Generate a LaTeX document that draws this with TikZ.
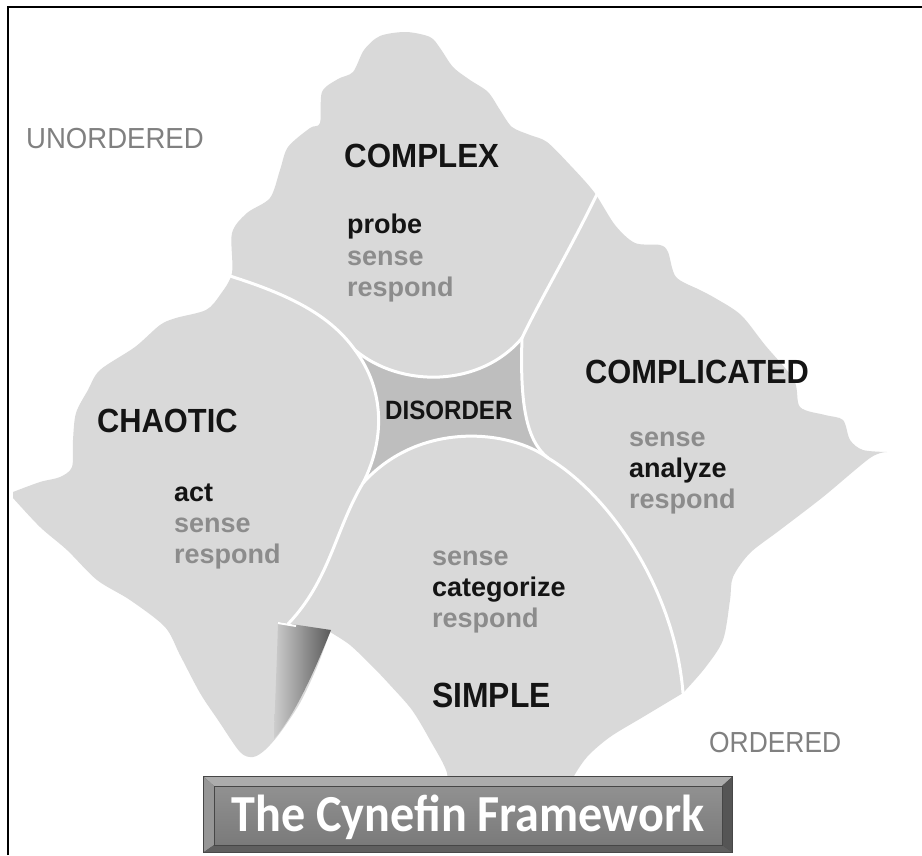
\documentclass[tikz,border=0pt]{standalone}
\usepackage{fontspec}
\setmainfont{Liberation Sans}
\newfontfamily\titlefont{Carlito}
\definecolor{regionfill}{RGB}{217,217,217}
\definecolor{disorderfill}{RGB}{190,190,190}
\definecolor{softtext}{RGB}{140,140,140}
\definecolor{hardtext}{RGB}{20,20,20}
\definecolor{edgetext}{RGB}{128,128,128}
\definecolor{wedgeL}{RGB}{205,205,205}
\definecolor{wedgeR}{RGB}{90,90,90}
\definecolor{bevelTop}{RGB}{172,172,172}
\definecolor{bevelLeft}{RGB}{150,150,150}
\definecolor{bevelBottom}{RGB}{95,95,95}
\definecolor{bevelRight}{RGB}{85,85,85}
\definecolor{faceTop}{RGB}{145,145,145}
\definecolor{faceBottom}{RGB}{122,122,122}
\definecolor{boxedge}{RGB}{70,70,70}
\begin{document}
\begin{tikzpicture}[x=1pt,y=-1pt,
  sep/.style={white,line width=3pt,line cap=round},
  dname/.style={inner sep=0pt,anchor=base west,text=hardtext,font=\bfseries\fontsize{33.5}{36}\selectfont},
  verbhard/.style={inner sep=0pt,anchor=base west,text=hardtext,font=\bfseries\fontsize{27}{30}\selectfont},
  verbsoft/.style={inner sep=0pt,anchor=base west,text=softtext,font=\bfseries\fontsize{27}{30}\selectfont},
  axislabel/.style={inner sep=0pt,anchor=base west,text=edgetext,font=\fontsize{29}{32}\selectfont}]
\useasboundingbox (0,0) rectangle (922,855);
\fill[white] (0,0) rectangle (922,855);
% frame
\draw[black,line width=2pt] (8,855) -- (8,7) -- (922,7);
% landscape
\fill[regionfill]
  plot[smooth,tension=0.5] coordinates {(887,452) (870,458) (823,497) (780,530) (750,553) (733,577) (730,600) (723,640) (705,668) (683,693)}
  -- plot[smooth,tension=0.5] coordinates {(683,693) (643,717) (610,737) (587,757) (572,780) (568,800)}
  -- (445,800)
  -- plot[smooth,tension=0.5] coordinates {(445,800) (447,773) (430,740) (412,710) (390,685) (373,667) (350,645) (330,632)}
  -- plot[smooth,tension=0.5] coordinates {(330,632) (317,667) (300,703) (280,733) (265,750) (253,757) (240,752) (218,720) (200,693) (180,655) (165,627) (130,600) (97,580) (67,550) (40,527) (13,498)}
  -- plot[smooth,tension=0.5] coordinates {(13,492) (40,482) (60,477) (72,467) (73,440) (76,413) (88,390) (100,370) (135,347) (160,325) (176,318) (206,310) (220,295) (232,273) (232,233) (247,213) (270,198) (280,170) (288,147) (310,128) (320,123) (322,92) (338,79) (353,72) (364,50) (380,36) (406,32) (430,37) (440,48) (453,67) (470,80) (488,92) (500,110) (512,127) (530,135) (547,142) (570,165) (594,192) (615,225) (635,243) (660,245) (668,252) (676,277) (700,290) (715,298) (741,315) (765,345) (794,380) (800,407) (825,415) (843,420) (850,440) (863,450) (887,452)}
  -- cycle;
% cliff
\shade[left color=wedgeL,right color=wedgeR]
  (278,622) -- (331,630) .. controls (315,670) and (295,715) .. (274,739)
  .. controls (275,700) and (277,660) .. (278,622) -- cycle;
% junctions
\coordinate (dTL) at (355,350);
\coordinate (dTR) at (522,338);
\coordinate (dBR) at (548,458);
\coordinate (dBL) at (363,483);
\coordinate (eCC) at (230,276);
\coordinate (eCX) at (598,192);
\coordinate (eCS) at (683,693);
\coordinate (eCL) at (288,624);
% disorder
\fill[disorderfill] (dTL) .. controls (400,388) and (480,388) .. (dTR)
  .. controls (520,400) and (525,440) .. (dBR)
  .. controls (510,430) and (420,420) .. (dBL)
  .. controls (385,440) and (385,390) .. (dTL) -- cycle;
% boundaries
\draw[sep] (eCC) .. controls (290,295) and (330,315) .. (dTL);
\draw[sep] (dTL) .. controls (400,388) and (480,388) .. (dTR);
\draw[sep] (eCX) .. controls (570,250) and (540,300) .. (dTR);
\draw[sep] (dTR) .. controls (520,400) and (525,440) .. (dBR) .. controls (610,495) and (675,590) .. (eCS);
\draw[sep] (dBR) .. controls (510,430) and (420,420) .. (dBL);
\draw[sep] (dBL) .. controls (385,440) and (385,390) .. (dTL);
\draw[sep] (dBL) .. controls (335,530) and (330,580) .. (eCL);
\draw[white,line width=2pt] (278,623) -- (296,626);
% labels
\node[axislabel] (unordered) at (26,148) {\scalebox{0.95}[1]{UNORDERED}};
\node[axislabel] (ordered) at (709,752) {\scalebox{0.91}[1]{ORDERED}};
\node[dname] (complex) at (344,167) {\scalebox{0.935}[1]{COMPLEX}};
\node[verbhard] (probe) at (347,233) {probe};
\node[verbsoft] (csense) at (347,265) {sense};
\node[verbsoft] (crespond) at (347,296) {respond};
\node[dname] (chaotic) at (97,432) {\scalebox{0.92}[1]{CHAOTIC}};
\node[verbhard] (act) at (174,501) {act};
\node[verbsoft] (hsense) at (174,532) {sense};
\node[verbsoft] (hrespond) at (174,563) {respond};
\node[dname] (complicated) at (585,383) {\scalebox{0.92}[1]{COMPLICATED}};
\node[verbsoft] (psense) at (629,446) {sense};
\node[verbhard] (analyze) at (629,477) {analyze};
\node[verbsoft] (prespond) at (629,508) {respond};
\node[dname,font=\bfseries\fontsize{26.5}{30}\selectfont] (disorder) at (385,419) {\scalebox{0.91}[1]{DISORDER}};
\node[verbsoft] (ssense) at (432,565) {sense};
\node[verbhard] (categorize) at (432,596) {categorize};
\node[verbsoft] (srespond) at (432,627) {respond};
\node[dname,font=\bfseries\fontsize{35}{38}\selectfont] (simple) at (432,707) {\scalebox{0.91}[1]{SIMPLE}};
% title box
\fill[boxedge] (203,776) rectangle (733,853);
\fill[bevelTop] (204,777) -- (732,777) -- (722,786) -- (214,786) -- cycle;
\fill[bevelLeft] (204,777) -- (214,786) -- (214,845) -- (204,852) -- cycle;
\fill[bevelBottom] (204,852) -- (214,845) -- (722,845) -- (732,852) -- cycle;
\fill[bevelRight] (732,777) -- (722,786) -- (722,845) -- (732,852) -- cycle;
\shade[top color=faceTop,bottom color=faceBottom] (214,786) rectangle (722,845);
\draw[boxedge,line width=0.8pt] (214,786) rectangle (722,845);
\node[inner sep=0pt,anchor=base,text=white,font=\titlefont\bfseries\fontsize{52}{56}\selectfont] (title) at (468,831) {\scalebox{0.925}[1]{The Cynefin Framework}};
\end{tikzpicture}
\end{document}
